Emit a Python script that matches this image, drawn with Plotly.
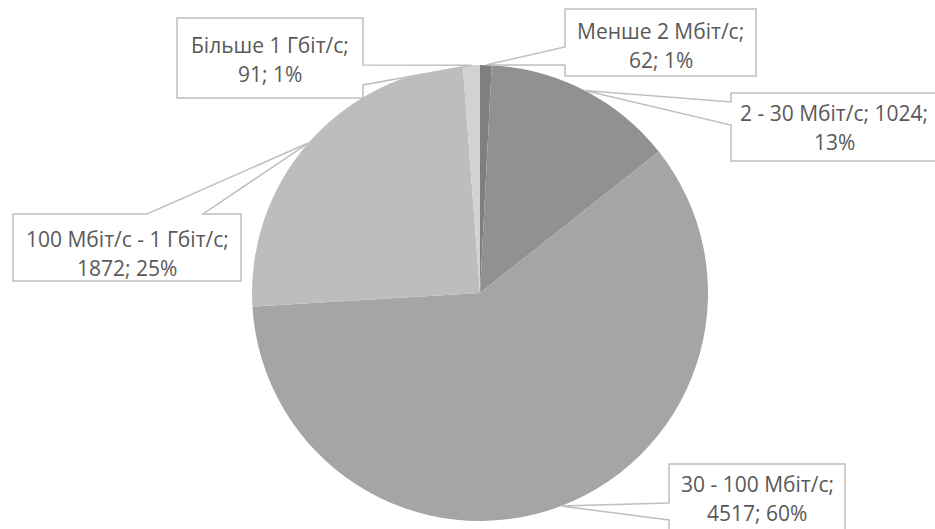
import math
import plotly.graph_objects as go

# ---- data -------------------------------------------------------------
categories = [
    "Менше 2 Мбіт/с",
    "2 - 30 Мбіт/с",
    "30 - 100 Мбіт/с",
    "100 Мбіт/с - 1 Гбіт/с",
    "Більше 1 Гбіт/с",
]
counts = [62, 1024, 4517, 1872, 91]
percent_labels = ["1%", "13%", "60%", "25%", "1%"]
value_on_first_line = [False, True, False, False, False]

# ---- styling / layout -------------------------------------------------
W, H = 935, 529
slice_colors = ["#7f7f7f", "#919191", "#a5a5a5", "#bdbdbd", "#d2d2d2"]
text_color = "#595959"
border_color = "#bfbfbf"
font_family = "Open Sans"
font_size = 21

# pie placement in pixels
cx, cy, radius = 480, 293, 228

# callout boxes: (left, top, right, bottom), side of pointer, two attach
# coords, vertical centres of the two text lines
callouts = [
    ((565, 9, 756, 76), "left", (47, 65), (31, 60)),
    ((731, 93, 937, 161), "left", (102, 125), (113, 142)),
    ((669, 464, 845, 535), "left", (503, 520), (484, 513)),
    ((13, 214, 241, 281), "top", (147, 203), (239, 268)),
    ((177, 18, 363, 98), "right", (65, 85), (45, 74)),
]


def px(x):
    return x / W


def py(y):
    return 1 - y / H


fig = go.Figure(
    go.Pie(
        labels=categories,
        values=counts,
        sort=False,
        direction="clockwise",
        rotation=0,
        marker=dict(colors=slice_colors, line=dict(width=0)),
        textinfo="none",
        hoverinfo="label+value+percent",
        showlegend=False,
        domain=dict(
            x=[px(cx - radius), px(cx + radius)],
            y=[py(cy + radius), py(cy - radius)],
        ),
    )
)

# tips of the callout pointers: mid-angle of each slice on the pie rim
total = sum(counts)
cum = 0
tips = []
for v in counts:
    mid = (cum + v / 2) / total * 2 * math.pi
    tips.append((cx + radius * math.sin(mid), cy - radius * math.cos(mid)))
    cum += v

shapes = []
annotations = []
for i, ((l, t, r, b), side, (a1, a2), line_y) in enumerate(callouts):
    tx, ty = tips[i]
    if side == "left":
        pts = [(l, t), (r, t), (r, b), (l, b), (l, a2), (tx, ty), (l, a1)]
    elif side == "right":
        pts = [(l, t), (r, t), (r, a1), (tx, ty), (r, a2), (r, b), (l, b)]
    else:  # top
        pts = [(l, t), (a1, t), (tx, ty), (a2, t), (r, t), (r, b), (l, b)]
    path = "M " + " L ".join(f"{px(x):.5f},{py(y):.5f}" for x, y in pts) + " Z"
    shapes.append(
        dict(
            type="path",
            xref="paper",
            yref="paper",
            path=path,
            fillcolor="white",
            line=dict(color=border_color, width=1.5),
            layer="above",
        )
    )

    name = categories[i] + ";"
    if value_on_first_line[i]:
        lines = [f"{name} {counts[i]};", percent_labels[i]]
    else:
        lines = [name, f"{counts[i]}; {percent_labels[i]}"]
    for txt, yy in zip(lines, line_y):
        annotations.append(
            dict(
                x=px((l + r) / 2),
                y=py(yy),
                xref="paper",
                yref="paper",
                text=txt,
                showarrow=False,
                xanchor="center",
                yanchor="middle",
                font=dict(family=font_family, size=font_size, color=text_color),
            )
        )

fig.update_layout(
    width=W,
    height=H,
    margin=dict(l=0, r=0, t=0, b=0),
    paper_bgcolor="white",
    plot_bgcolor="white",
    shapes=shapes,
    annotations=annotations,
)

fig.write_html("out.html")
